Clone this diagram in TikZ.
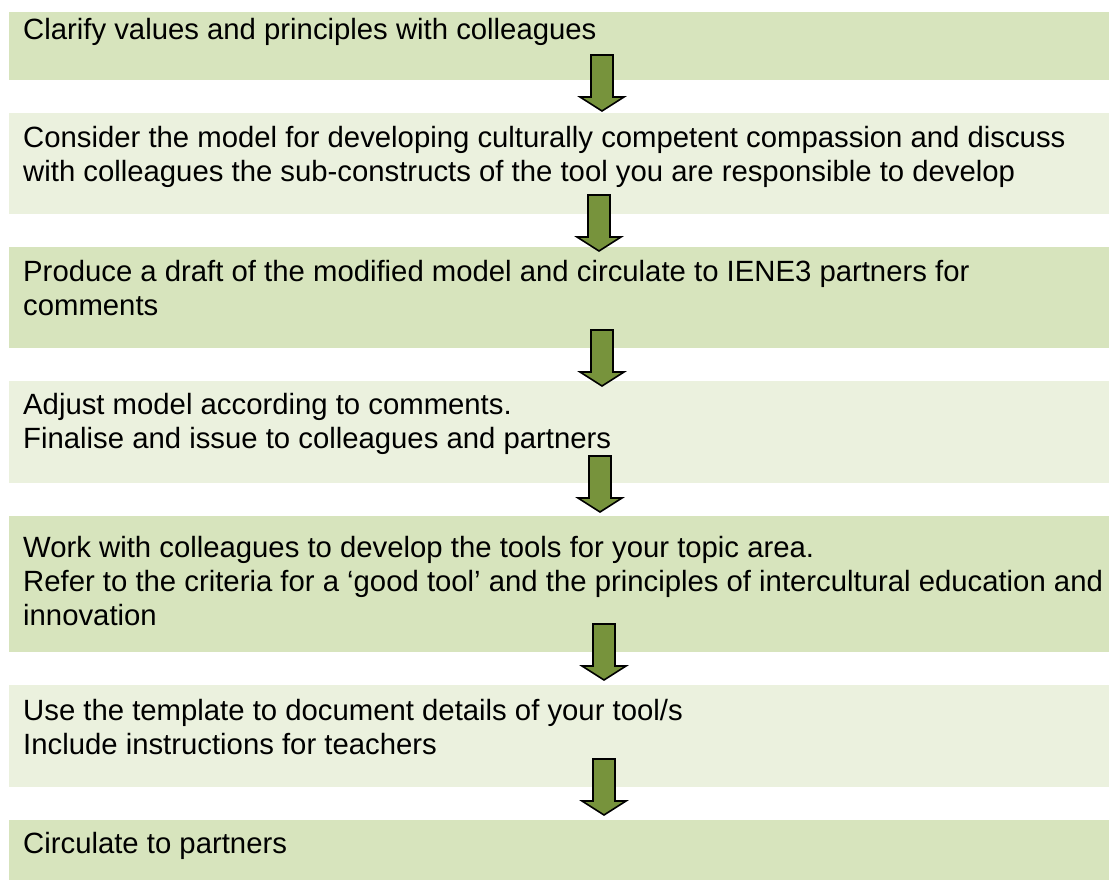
\documentclass[tikz,border=0pt]{standalone}
\usepackage{fontspec}
\setmainfont{Liberation Sans}
\usetikzlibrary{positioning,calc}
\definecolor{olivedark}{HTML}{D7E4BD}
\definecolor{olivelight}{HTML}{EBF1DE}
\definecolor{arrowgreen}{HTML}{77933C}
\tikzset{
  boxdark/.style={rectangle, fill=olivedark, minimum width=1100pt, inner sep=0pt, outer sep=0pt},
  boxlight/.style={boxdark, fill=olivelight},
  boxtext/.style={anchor=north west, inner sep=0pt, align=left, font=\fontsize{29.3}{34}\selectfont},
  downarrow/.pic={
    \filldraw[fill=arrowgreen, draw=black, line width=1.6pt, line join=miter]
    (-11,0) -- (11,0) -- (11,42) -- (22,42) -- (0,56) -- (-22,42) -- (-11,42) -- cycle;
  }
}

\begin{document}
\begin{tikzpicture}[x=1pt, y=-1pt, node distance=33pt]
	\useasboundingbox (0,0) rectangle (1109,881);
	% boxes
	\node[boxdark, minimum height=68pt, anchor=north west] (box1) at (9,12) {};
	\node[boxlight, minimum height=101pt, below=of box1] (box2) {};
	\node[boxdark, minimum height=101pt, below=of box2] (box3) {};
	\node[boxlight, minimum height=102pt, below=of box3] (box4) {};
	\node[boxdark, minimum height=136pt, below=of box4] (box5) {};
	\node[boxlight, minimum height=102pt, below=of box5] (box6) {};
	\node[boxdark, minimum height=60pt, below=of box6] (box7) {};
	% texts
	\node[boxtext] (text1) at ([xshift=14pt,yshift=-6pt]box1.north west) {Clarify values and principles with colleagues};
	\node[boxtext] (text2) at ([xshift=14pt,yshift=-13pt]box2.north west) {Consider the model for developing culturally competent compassion and discuss\\with colleagues the sub-constructs of the tool you are responsible to develop};
	\node[boxtext] (text3) at ([xshift=14pt,yshift=-13pt]box3.north west) {Produce a draft of the modified model and circulate to IENE3 partners for\\comments};
	\node[boxtext] (text4) at ([xshift=14pt,yshift=-12pt]box4.north west) {Adjust model according to comments.\\Finalise and issue to colleagues and partners};
	\node[boxtext] (text5) at ([xshift=14pt,yshift=-20pt]box5.north west) {Work with colleagues to develop the tools for your topic area.\\Refer to the criteria for a ‘good tool’ and the principles of intercultural education and\\innovation};
	\node[boxtext] (text6) at ([xshift=14pt,yshift=-14pt]box6.north west) {Use the template to document details of your tool/s\\Include instructions for teachers};
	\node[boxtext] (text7) at ([xshift=14pt,yshift=-12pt]box7.north west) {Circulate to partners};
	% arrows
	\pic at ([xshift=43pt,yshift=25pt]box1.south) {downarrow};
	\pic at ([xshift=40pt,yshift=19pt]box2.south) {downarrow};
	\pic at ([xshift=43pt,yshift=18pt]box3.south) {downarrow};
	\pic at ([xshift=41pt,yshift=27pt]box4.south) {downarrow};
	\pic at ([xshift=45pt,yshift=28pt]box5.south) {downarrow};
	\pic at ([xshift=45pt,yshift=28pt]box6.south) {downarrow};
\end{tikzpicture}
\end{document}
